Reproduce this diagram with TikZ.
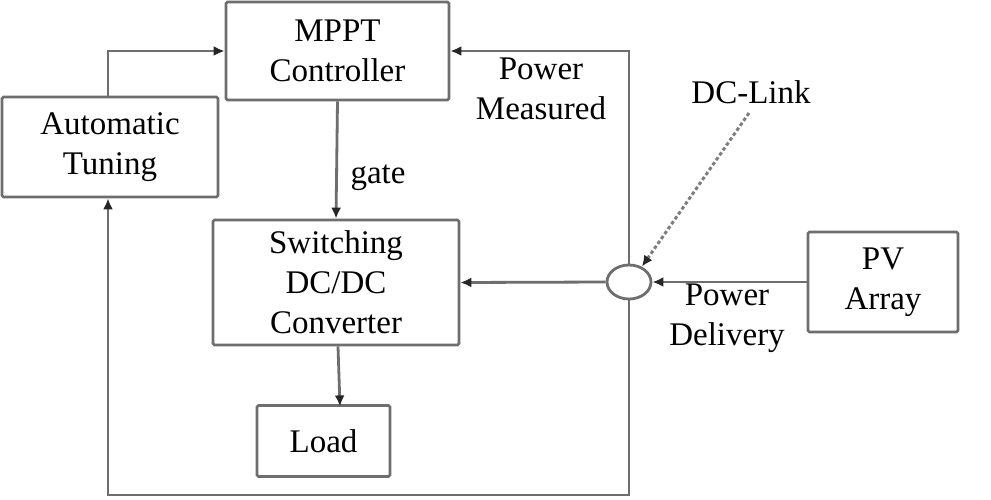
\documentclass[tikz,border=0pt]{standalone}
\usepackage{fontspec}
\setmainfont{Liberation Serif}
\usetikzlibrary{arrows.meta,shapes.geometric}
\definecolor{linegray}{HTML}{6E6E6E}
\definecolor{dashgray}{HTML}{7E7E7E}
\begin{document}
\begin{tikzpicture}[x=1pt,y=-1pt,
  txt/.style={font=\fontsize{33}{40}\selectfont},
  box/.style={draw=linegray,line width=2.8pt,rounded corners=1.5pt,align=center,inner sep=0pt,txt},
  lbl/.style={align=center,inner sep=0pt,txt},
  tip/.style={-{Latex[length=11pt,width=10pt,color=black!85]}},
  conn/.style={draw=linegray,line width=2.8pt},
]
\fill[white] (0,0) rectangle (991,499);
\useasboundingbox (0,0) rectangle (991,499);
% boxes
\node[box,minimum width=223pt,minimum height=98pt] (mppt) at (337.5,51) {MPPT\\Controller};
\node[box,minimum width=216pt,minimum height=100pt] (tune) at (110,147) {Automatic\\Tuning};
\node[box,minimum width=246pt,minimum height=125pt] (sw) at (336,282.5) {Switching\\DC/DC\\Converter};
\node[box,minimum width=133pt,minimum height=71pt] (load) at (323.5,441) {Load};
\node[box,minimum width=150pt,minimum height=100pt] (pv) at (883,282) {PV\\Array};
\node[draw=linegray,line width=2.8pt,ellipse,minimum width=44pt,minimum height=34pt,inner sep=0pt] (circ) at (629,282) {};
% labels
\node[lbl] (pm) at (541,89) {Power\\Measured};
\node[lbl] (pd) at (727,318) {Power\\Delivery};
\node[lbl] (gate) at (378,178) {gate};
\node[lbl] (dcl) at (751,92) {DC-Link};
% coordinates
\coordinate (br) at (629,495);
\coordinate (bl) at (108,495);
\coordinate (dstart) at (749,113);
% connectors
\draw[conn,tip] (tune.north -| 108,0) |- (mppt.west);
\draw[conn,tip] (mppt.south) -- (sw.north);
\draw[conn,tip] (sw.south) ++(2,0) -- ++(2,60);
\draw[conn,tip] (pv.west) -- (circ.east);
\draw[conn,tip] (circ.west) -- (sw.east);
\draw[conn,tip] (circ.north) |- (mppt.east);
\draw[conn,tip] (circ.south) -- (br) -- (bl) -- (tune.south -| bl);
\draw[draw=dashgray,line width=3pt,dash pattern=on 3.5pt off 2.5pt,-{Latex[length=11pt,width=10pt,color=black!85]}] (dstart) -- (circ.50);
\end{tikzpicture}
\end{document}
